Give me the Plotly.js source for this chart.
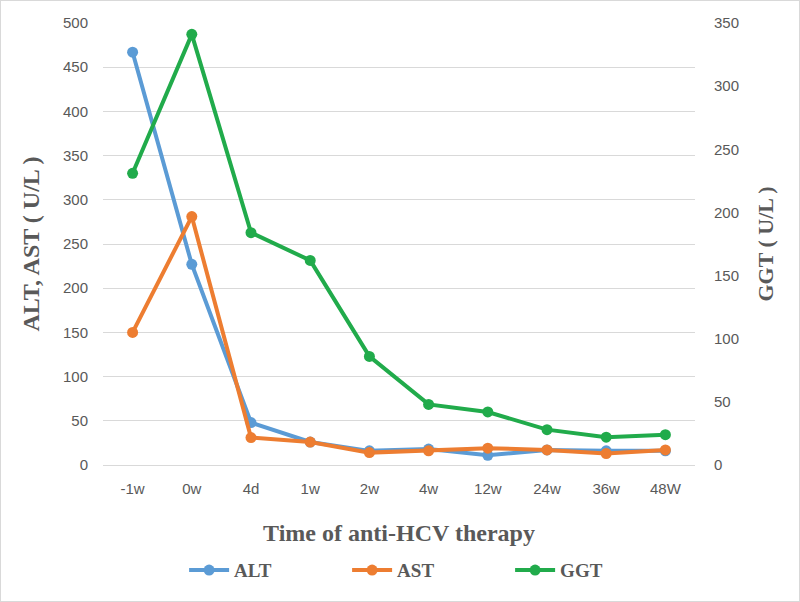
<!DOCTYPE html>
<html>
<head>
<meta charset="utf-8">
<script src="https://cdn.plot.ly/plotly-3.0.1.min.js"></script>
<style>
html,body{margin:0;padding:0;background:#fff;}
#wrap{width:798px;height:600px;border:1px solid #d9d9d9;}
#chart{width:798px;height:600px;}
</style>
</head>
<body>
<div id="wrap"><div id="chart"></div></div>
<script>
var categories = ["-1w","0w","4d","1w","2w","4w","12w","24w","36w","48W"];
var altValues = [467, 227, 48, 26, 16, 18, 11, 17, 16, 16];
var astValues = [150, 281, 31, 26, 14, 16, 19, 17, 13, 17];
var ggtValues = [231, 341, 184, 162, 86, 48, 42, 28, 22, 24];

var serif = "Liberation Serif, Times New Roman, serif";
var sans = "Liberation Sans, Arial, sans-serif";

function series(name, y, color, axis){
  return {
    type: "scatter", mode: "lines+markers", name: name,
    x: categories, y: y, yaxis: axis,
    line: {color: color, width: 4},
    marker: {color: color, size: 11}
  };
}

var data = [
  series("ALT", altValues, "#5B9BD5", "y"),
  series("AST", astValues, "#ED7D31", "y"),
  series("GGT", ggtValues, "#21AB4B", "y2")
];

var layout = {
  width: 798, height: 600,
  margin: {l: 102, r: 104, t: 22, b: 136, autoexpand: false},
  paper_bgcolor: "#fff", plot_bgcolor: "#fff",
  showlegend: true,
  legend: {
    orientation: "h", x: 0.137, xanchor: "left", y: -0.238, yanchor: "middle",
    font: {family: serif, size: 19, color: "#595959", weight: "bold"},
    itemwidth: 40, traceorder: "normal", entrywidth: 108
  },
  xaxis: {
    type: "category", range: [-0.5, 9.5],
    showgrid: false, zeroline: false,
    showline: true, linecolor: "#d9d9d9", linewidth: 1,
    ticks: "", tickfont: {family: sans, size: 15, color: "#595959"},
    ticklabelstandoff: 10,
    title: {text: "Time of anti-HCV therapy", font: {family: serif, size: 24, color: "#595959", weight: "bold"}, standoff: 28}
  },
  yaxis: {
    range: [0, 500], dtick: 50, tick0: 0,
    showgrid: true, gridcolor: "#d9d9d9", gridwidth: 1,
    zeroline: false, showline: false, ticks: "",
    tickfont: {family: sans, size: 15, color: "#595959"},
    ticklabelstandoff: 14,
    title: {text: "ALT, AST ( U/L )", font: {family: serif, size: 24, color: "#595959", weight: "bold"}, standoff: 16}
  },
  yaxis2: {
    overlaying: "y", side: "right",
    range: [0, 350], dtick: 50, tick0: 0,
    showgrid: false, zeroline: false, showline: false, ticks: "",
    tickfont: {family: sans, size: 15, color: "#595959"},
    ticklabelstandoff: 18,
    title: {text: "GGT ( U/L )", font: {family: serif, size: 22, color: "#595959", weight: "bold"}, standoff: 19}
  }
};

Plotly.newPlot("chart", data, layout, {displayModeBar: false, staticPlot: true});
</script>
</body>
</html>
